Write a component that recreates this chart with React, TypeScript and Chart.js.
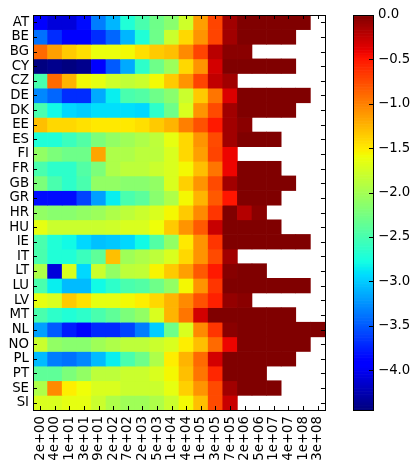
import React, { useEffect, useRef } from "react";
import { Chart, registerables } from "chart.js";
Chart.register(...registerables);

const xLabels = ["2e+00","4e+00","1e+01","3e+01","9e+01","2e+02","7e+02","2e+03","5e+03","1e+04","4e+04","1e+05","3e+05","7e+05","2e+06","5e+06","1e+07","4e+07","1e+08","3e+08"];

const rowAT = [-3.9,-4.1,-4.1,-3.85,-3.35,-3.1,-2.72,-2.5,-2.3,-2.15,-1.78,-1.15,-0.72,-0.13,0,0,0,0,0,null];
const rowBE = [-3.4,-3.7,-3.9,-3.9,-3.7,-3.45,-3.1,-2.72,-2.3,-1.8,-1.42,-1.1,-0.72,-0.13,0,0,0,0,null,null];
const rowBG = [-0.9,-1.15,-1.35,-1.45,-1.62,-1.62,-1.58,-1.45,-1.35,-1.3,-1.05,-0.72,-0.22,-0.04,-0.04,null,null,null,null,null];
const rowCY = [-4.45,-4.4,-4.45,-4.4,-3.95,-3.5,-3.15,-2.65,-2.3,-2.05,-1.42,-1.1,-0.32,0,0,0,0,0,null,null];
const rowCZ = [-2.5,-0.9,-1.25,-1.58,-1.65,-1.78,-1.85,-1.8,-1.58,-1.35,-1.1,-0.72,-0.25,-0.13,null,null,null,null,null,null];
const rowDE = [-3.3,-3.45,-3.7,-3.7,-3.15,-2.85,-2.5,-2.45,-2.3,-2.15,-1.8,-1.35,-0.95,-0.35,0,0,0,0,0,null];
const rowDK = [-2.5,-2.8,-2.95,-3.0,-2.92,-2.92,-2.92,-2.95,-2.65,-2.3,-1.72,-1.1,-0.75,-0.13,0,0,0,0,null,null];
const rowEE = [-1.3,-1.42,-1.42,-1.46,-1.5,-1.5,-1.5,-1.45,-1.35,-1.25,-1.0,-0.78,-0.52,-0.13,-0.04,null,null,null,null,null];
const rowES = [-2.72,-2.72,-2.58,-2.45,-2.22,-2.1,-2.03,-1.95,-1.87,-1.65,-1.42,-1.1,-0.75,-0.13,0,0,0,null,null,null];
const rowFI = [-2.1,-2.22,-2.3,-2.3,-1.18,-1.95,-1.95,-1.88,-1.88,-1.72,-1.42,-1.15,-0.72,-0.42,null,null,null,null,null,null];
const rowFR = [-2.5,-2.65,-2.65,-2.45,-2.22,-1.95,-1.87,-1.87,-1.8,-1.72,-1.57,-1.3,-0.95,-0.42,0,0,0,null,null,null];
const rowGB = [-2.22,-2.5,-2.65,-2.5,-2.1,-2.1,-2.15,-2.15,-2.1,-1.72,-1.38,-1.1,-0.75,-0.13,0,0,0,0,null,null];
const rowGR = [-3.85,-3.85,-3.85,-3.6,-3.2,-2.85,-2.5,-2.4,-2.15,-1.95,-1.57,-1.25,-0.82,-0.5,0,0,0,null,null,null];
const rowHR = [-2.1,-2.15,-2.15,-2.1,-2.05,-1.95,-1.87,-1.8,-1.72,-1.57,-1.35,-1.05,-0.65,0,-0.2,-0.04,null,null,null,null];
const rowHU = [-1.65,-1.8,-1.8,-1.8,-1.8,-1.78,-1.72,-1.72,-1.6,-1.35,-1.1,-0.82,-0.28,0,0,0,0,null,null,null];
const rowIE = [-2.5,-2.72,-2.8,-2.95,-3.05,-3.02,-2.95,-2.8,-2.45,-2.1,-1.5,-1.1,-0.65,0,0,0,0,0,0,null];
const rowIT = [-2.5,-2.72,-2.72,-2.58,-2.38,-1.3,-2.03,-1.95,-1.87,-1.72,-1.42,-1.1,-0.75,-0.13,null,null,null,null,null,null];
const rowLT = [-1.95,-4.1,-1.72,-2.95,-1.8,-2.1,-1.87,-1.85,-1.55,-1.35,-1.15,-0.82,-0.52,-0.03,0,0,null,null,null,null];
const rowLU = [-2.5,-2.85,-3.08,-3.08,-2.8,-2.65,-2.5,-2.45,-2.3,-2.1,-1.57,-1.1,-0.65,0,0,0,0,0,0,null];
const rowLV = [-1.65,-1.72,-1.35,-1.46,-1.65,-1.65,-1.58,-1.52,-1.42,-1.25,-1.05,-0.78,-0.55,-0.08,-0.04,null,null,null,null,null];
const rowMT = [-2.5,-2.65,-2.72,-2.65,-2.5,-2.38,-2.22,-2.1,-1.72,-1.25,-0.95,-0.32,0,0,0,0,0,0,null,null];
const rowNL = [-3.2,-3.5,-3.78,-3.9,-3.72,-3.72,-3.6,-3.35,-3.0,-2.3,-1.72,-1.05,-0.65,-0.04,0,0,0,0,0,0];
const rowNO = [-1.8,-2.1,-2.15,-2.15,-2.03,-1.95,-1.87,-1.87,-1.8,-1.72,-1.52,-1.3,-0.9,-0.42,0,0,0,0,0,null];
const rowPL = [-3.08,-3.35,-3.4,-3.3,-3.08,-2.85,-2.5,-2.3,-1.95,-1.52,-1.25,-0.9,-0.32,0,0,0,0,0,null,null];
const rowPT = [-2.38,-2.38,-2.22,-2.1,-1.87,-1.87,-1.8,-1.8,-1.72,-1.57,-1.3,-0.95,-0.58,0,0,0,null,null,null,null];
const rowSE = [-1.95,-1.05,-1.52,-1.6,-1.72,-1.72,-1.8,-1.8,-1.8,-1.65,-1.38,-1.1,-0.75,-0.13,0,0,0,null,null,null];
const rowSI = [-1.72,-1.72,-1.65,-1.65,-1.8,-1.95,-2.03,-2.03,-1.95,-1.8,-1.58,-1.3,-0.75,-0.28,null,null,null,null,null,null];

const rowNames = ["AT","BE","BG","CY","CZ","DE","DK","EE","ES","FI","FR","GB","GR","HR","HU","IE","IT","LT","LU","LV","MT","NL","NO","PL","PT","SE","SI"];
const rows: (number | null)[][] = [rowAT,rowBE,rowBG,rowCY,rowCZ,rowDE,rowDK,rowEE,rowES,rowFI,rowFR,rowGB,rowGR,rowHR,rowHU,rowIE,rowIT,rowLT,rowLU,rowLV,rowMT,rowNL,rowNO,rowPL,rowPT,rowSE,rowSI];

const vMin = -4.45;
const vMax = 0;
const colorbarTicks = [0, -0.5, -1.0, -1.5, -2.0, -2.5, -3.0, -3.5, -4.0];

type Pt = [number, number];
const jetR: Pt[] = [[0,0],[0.35,0],[0.66,1],[0.89,1],[1,0.5]];
const jetG: Pt[] = [[0,0],[0.125,0],[0.375,1],[0.64,1],[0.91,0],[1,0]];
const jetB: Pt[] = [[0,0.5],[0.11,1],[0.34,1],[0.65,0],[1,0]];

function interp(pts: Pt[], t: number) {
  for (let i = 1; i < pts.length; i++) {
    if (t <= pts[i][0]) {
      const [x0, y0] = pts[i - 1];
      const [x1, y1] = pts[i];
      return y0 + ((t - x0) / (x1 - x0)) * (y1 - y0);
    }
  }
  return pts[pts.length - 1][1];
}

function jet(v: number) {
  let t = (v - vMin) / (vMax - vMin);
  t = Math.max(0, Math.min(1, t));
  const r = Math.round(interp(jetR, t) * 255);
  const g = Math.round(interp(jetG, t) * 255);
  const b = Math.round(interp(jetB, t) * 255);
  return `rgb(${r},${g},${b})`;
}

const FONT = { family: "'DejaVu Sans', sans-serif", size: 13.3 };
const TICK = 4;

const frameTicks = {
  id: "frameTicks",
  afterDatasetsDraw(chart: any, _args: any, opts: any) {
    const { ctx, chartArea: a } = chart;
    ctx.save();
    ctx.strokeStyle = "#000";
    ctx.lineWidth = 1;
    ctx.beginPath();
    const xs = chart.scales.x;
    const ys = chart.scales.y;
    if (opts.xTicks) {
      xs.ticks.forEach((_t: any, i: number) => {
        const px = Math.round(xs.getPixelForTick(i)) + 0.5;
        ctx.moveTo(px, a.top);
        ctx.lineTo(px, a.top + TICK);
        ctx.moveTo(px, a.bottom);
        ctx.lineTo(px, a.bottom - TICK);
      });
    }
    ys.ticks.forEach((_t: any, i: number) => {
      const py = Math.round(ys.getPixelForTick(i)) + 0.5;
      if (opts.yLeft) {
        ctx.moveTo(a.left, py);
        ctx.lineTo(a.left + TICK, py);
      }
      ctx.moveTo(a.right, py);
      ctx.lineTo(a.right - TICK, py);
    });
    ctx.stroke();
    ctx.strokeRect(
      Math.round(a.left) + 0.5,
      Math.round(a.top) + 0.5,
      Math.round(a.right) - Math.round(a.left),
      Math.round(a.bottom) - Math.round(a.top)
    );
    ctx.restore();
  },
};

function fmt(v: number) {
  if (Math.abs(v) < 1e-9) return "0.0";
  return (v < 0 ? "\u2212" : "") + Math.abs(v).toFixed(1);
}

export default function App() {
  const mainRef = useRef<HTMLCanvasElement>(null);
  const barRef = useRef<HTMLCanvasElement>(null);

  useEffect(() => {
    Chart.defaults.font.family = FONT.family;
    Chart.defaults.font.size = FONT.size;
    Chart.defaults.color = "#000";

    const datasets = rows.map((row, r) => ({
      label: rowNames[r],
      data: row.map((v) => (v === null ? null : [r, r + 1])),
      backgroundColor: row.map((v) => (v === null ? "rgba(0,0,0,0)" : jet(v))),
      borderWidth: 0,
      barPercentage: 1,
      categoryPercentage: 1,
    }));

    const main = new Chart(mainRef.current!, {
      type: "bar",
      data: { labels: xLabels, datasets: datasets as any },
      plugins: [frameTicks],
      options: {
        responsive: false,
        animation: false,
        events: [],
        layout: { padding: { top: 15, right: 15, left: 0, bottom: 0 } },
        plugins: {
          legend: { display: false },
          tooltip: { enabled: false },
          frameTicks: { xTicks: true, yLeft: true },
        } as any,
        scales: {
          x: {
            type: "category",
            stacked: true,
            grid: { display: false, drawTicks: false },
            border: { display: false },
            ticks: {
              minRotation: 90,
              maxRotation: 90,
              autoSkip: false,
              padding: 6,
              font: FONT,
              color: "#000",
            },
            afterFit: (s: any) => {
              s.height = 54;
            },
          },
          y: {
            type: "linear",
            stacked: false,
            min: 0,
            max: rows.length,
            reverse: true,
            grid: { display: false, drawTicks: false },
            border: { display: false },
            afterBuildTicks: (s: any) => {
              s.ticks = rowNames.map((_n, i) => ({ value: i + 0.5 }));
            },
            ticks: {
              autoSkip: false,
              padding: 4,
              font: FONT,
              color: "#000",
              callback: (_v: any, i: number) => rowNames[i],
            },
            afterFit: (s: any) => {
              s.width = 33;
            },
          },
        },
      },
    });

    const N = 256;
    const step = (vMax - vMin) / N;
    const cbDatasets = Array.from({ length: N }, (_x, k) => {
      const lo = vMin + k * step;
      const hi = lo + step;
      return {
        data: [[lo, hi]],
        backgroundColor: jet((lo + hi) / 2),
        borderWidth: 0,
        barPercentage: 1,
        categoryPercentage: 1,
      };
    });

    const cb = new Chart(barRef.current!, {
      type: "bar",
      data: { labels: ["cb"], datasets: cbDatasets as any },
      plugins: [frameTicks],
      options: {
        responsive: false,
        animation: false,
        events: [],
        layout: { padding: { top: 15, right: 0, left: 13, bottom: 54 } },
        plugins: {
          legend: { display: false },
          tooltip: { enabled: false },
          frameTicks: { xTicks: false, yLeft: false },
        } as any,
        scales: {
          x: { type: "category", stacked: true, display: false },
          y: {
            type: "linear",
            position: "right",
            stacked: false,
            min: vMin,
            max: vMax,
            grid: { display: false, drawTicks: false },
            border: { display: false },
            afterBuildTicks: (s: any) => {
              s.ticks = colorbarTicks.slice().reverse().map((v) => ({ value: v }));
            },
            ticks: {
              autoSkip: false,
              padding: 5,
              font: FONT,
              color: "#000",
              callback: (v: any) => fmt(Number(v)),
            },
            afterFit: (s: any) => {
              s.width = 40;
            },
          },
        },
      },
    });

    return () => {
      main.destroy();
      cb.destroy();
    };
  }, []);

  return (
    <div style={{ position: "absolute", left: 0, top: 0, width: 413, height: 464, background: "#fff" }}>
      <canvas ref={mainRef} width={340} height={464} style={{ position: "absolute", left: 0, top: 0 }} />
      <canvas ref={barRef} width={73} height={464} style={{ position: "absolute", left: 340, top: 0 }} />
    </div>
  );
}
